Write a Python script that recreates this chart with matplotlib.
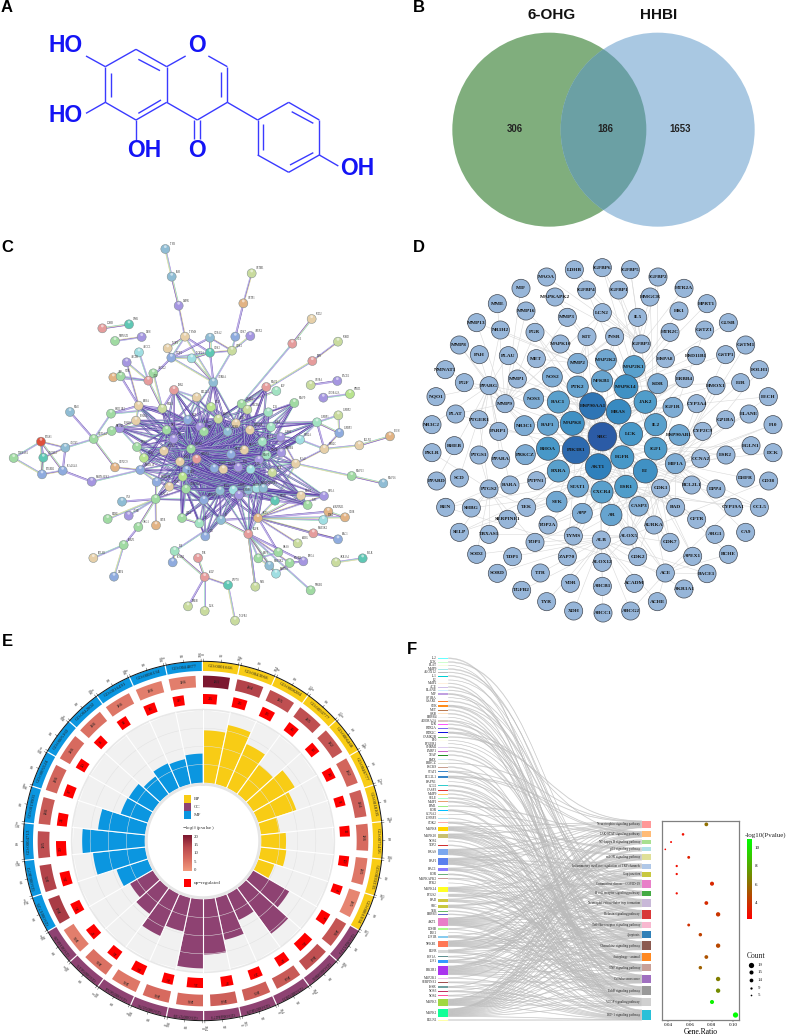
import numpy as np
import matplotlib
matplotlib.use("Agg")
import matplotlib.pyplot as plt
from matplotlib.patches import Circle, PathPatch, Rectangle
from matplotlib.path import Path
from matplotlib.collections import LineCollection
from matplotlib.colors import LinearSegmentedColormap

plt.rcParams['font.family'] = ['Liberation Sans', 'DejaVu Sans']
plt.rcParams['mathtext.fontset'] = 'stix'
SERIF = 'Liberation Serif'
W, H = 786, 1035

# ---- panel A
mol_bonds = [(408,148,500,200),(500,200,500,307),(500,307,408,360),(408,360,316,307),(316,307,316,200),(316,200,408,148),
             (415,178,480,212),(333,220,333,290),(415,340,483,300),(500,200,557,168),(625,168,682,200),(682,200,682,307),
             (663,215,663,290),(682,307,592,360),(592,360,500,307),(583,360,583,418),(600,360,600,418),(682,307,773,360),
             (773,360,866,307),(866,307,958,360),(958,360,958,465),(958,465,866,517),(866,517,773,465),(773,465,773,360),
             (790,372,790,450),(875,335,940,370),(870,495,940,458),(958,465,1015,498),(316,200,258,168),(316,307,258,340),
             (408,360,408,420)]
mol_atoms = ['HO', 'O', 'HO', 'OH', 'O', 'OH']
mol_atom_x = [198, 590, 198, 432, 590, 1073]
mol_atom_y = [135, 135, 345, 452, 452, 505]

# ---- panel B
venn_sets = ['6-OHG', 'HHBI']
venn_counts = [306, 186, 1653]

# ---- panel C
c_labels = """TYR PAH DHFR TYMS GSTM1 GSTP1 CCNA2 CDK7 APEX1 TOP1
TDP1 TOP2A CDK2 CDK1 AURKA ABCC1 ABCB1 ABCG2 ALB APP
VDR ESR2 BCL2L1 BAD CASP3 CXCR4 MMP2 PGF MMP9 ACE
REN SORD SOD2 GP1BA BACE1 ADORA2A HPRT1 IGFBP1 IGFBP2 IGFBP3
HTR2A HTR2C EGLN1 FECH MMP13 MMP16 PLAU KDR ERBB4 IGF1R
JAK2 LCK MME HSD11B1 RARA RXRA PPARA PPARG NR1H2 CYP3A4
PTGS1 ALOX5 ALOX12 TBXAS1 PTGER1 PLA2G4A MAPKAPK2 CYP2C9 MAPK10 NOS3
NOS2 PTGS2 MAPK14 ACACA TEK CA9 ACHE BCHE ARG1 CFTR
PARP1 FOLH1 DPP4 CCL2 IL5 IL2 F2 F10 ELANE F2R
SELP ZAP70 SYK EGFR AKT1 STAT1 SHBG IGF1 MMP1 HIF1A
SERPINE1 PTK2 CD38 MAP2K1 RAC1 HRAS RAF1 MAP2K2 MAPK8 PIK3R1
RHOA NFKB1 AKR1A1 PKLR RHEB DCK TGFB2 LDHB INSR NMNAT1 DBH
HK1 KIT MET PGR MIF MAOA GUSB LCN2 HMGCR NQO1
NR3C1 NR3C2 PPARD PRKCZ SCD TTR MMP3 MMP8 HSPA8 HMOX1
ESR1 AR GSTZ1 CYP19A1 CYP1A1 FGF2 IGFBP5 IGFBP6 MAPK1 MAPK3 CTNNB1""".split()
c_x = [496,515,536,555,755,730,630,706,751,503,
       514,575,630,696,640,417,380,460,445,340,
       362,522,590,633,725,742,799,829,883,877,
       937,1014,935,932,1012,970,1050,951,1015,1018,
       900,973,1078,1170,1055,1150,887,817,844,842,
       813,805,210,333,416,487,408,359,335,281,
       123,196,130,41,126,188,275,345,421,411,
       432,492,470,467,508,366,386,323,415,468,
       371,280,342,546,598,616,663,524,518,594,
       614,684,766,745,774,825,893,923,903,972,
       985,970,1035,940,1014,835,775,808,828,869,
       910,932,1008,1088,564,614,705,307,387,345,425,
       500,521,563,600,612,655,683,708,750,787,
       733,693,643,670,715,752,777,800,573,590,
       540,560,548,558,612,660,700,717,745,770,790]
c_y = [42,125,212,305,115,205,308,305,303,340,
       368,370,353,347,442,352,382,415,437,427,
       424,465,487,516,507,524,456,468,504,326,
       378,320,252,450,438,488,477,562,541,594,
       614,642,631,604,723,745,686,713,653,606,
       576,532,531,536,512,521,557,580,588,612,
       620,638,668,669,718,707,740,697,705,636,
       669,648,741,792,755,800,842,852,876,871,
       930,969,1025,849,865,904,855,948,982,969,
       1026,1050,1055,897,849,797,925,810,782,783,
       830,855,847,895,913,952,970,992,1016,984,
       979,1066,982,970,1114,1128,1157,280,268,318,306,
       585,612,555,575,590,552,590,565,585,620,
       645,658,700,703,697,703,675,660,642,672,
       680,705,725,762,795,767,765,780,765,760,760]
c_codes = """ssptoOsbpt bcToscpgrO grtlgormgr rotopplmob cttOgstopp mmsgtotpgg RsTgbbpObg ltbgtspggO
gtbgmbsmbr rTorOTogtp OcOrbggscg pgoTooorTgp gpbpgosttm tbbtpcpmgr tblgbscpscs""".split()
c_codes = ''.join(c_codes)
c_palette = {'g': '#A0DAA2', 't': '#E6CFA8', 'b': '#8FABDE', 'p': '#A596E0', 'r': '#E59C9C', 'c': '#A0DEE2',
             'o': '#C9DB9E', 'm': '#A2E2C2', 's': '#8FBCD4', 'l': '#B8E38E', 'R': '#DE4F3C', 'O': '#E2B384',
             'T': '#5FC7B4'}
c_edges = """TYR-PAH PAH-DHFR DHFR-TYMS TYMS-CDK2 TYMS-TDP1 TYMS-AURKA TYMS-TOP1 GSTM1-GSTP1 GSTP1-CDK7 CDK7-CDK1 APEX1-CDK1
CCNA2-CDK2 CCNA2-CDK1 CCNA2-TDP1 TDP1-CDK2 TDP1-TOP2A TOP2A-CDK2 CDK2-CDK1 CDK2-AURKA CDK1-AURKA TDP1-AURKA TOP2A-AURKA
TOP1-TDP1 TDP1-ALB ABCC1-ALB ABCB1-ALB ABCG2-ALB APP-VDR APP-ALB VDR-ALB ABCG2-RXRA ALB-RXRA ABCB1-RARA VDR-RARA
ACE-CASP3 REN-CASP3 SOD2-ACE SORD-REN GP1BA-BACE1 ADORA2A-HPRT1 AKR1A1-PKLR LDHB-INSR NMNAT1-DBH ESR2-RXRA ESR2-BCL2L1
MMP2-CASP3 PGF-CASP3 MMP9-LCK MME-CYP3A4 CYP3A4-HSD11B1 CYP3A4-NR1H2 CYP3A4-CYP2C9 CYP2C9-MAPK10 HSD11B1-RARA HSD11B1-RXRA
RARA-PPARA PPARA-PPARG PPARG-NR1H2 RARA-RXRA PPARG-NOS3 NOS3-NOS2 NOS2-PTGS2 PTGS1-ALOX5 PTGS1-ALOX12 PTGS1-TBXAS1 PTGS1-PTGER1
PTGS1-PLA2G4A ALOX5-ALOX12 ALOX5-PLA2G4A ALOX5-CYP3A4 TBXAS1-PTGER1 ALOX12-PTGER1 PLA2G4A-PTGER1 PLA2G4A-MAPKAPK2 MAPKAPK2-MAPK10
MAPK14-MAPK10 MAPK14-ACACA ACACA-TEK ACACA-CA9 ACACA-ACHE ACACA-BCHE ACACA-ARG1 ACACA-CFTR ARG1-PARP1 PARP1-FOLH1 PARP1-DPP4
CCL2-IL5 IL2-IL5 F2-AKT1 F10-F2 ELANE-F10 F2R-SELP SELP-ZAP70 SELP-RHEB SELP-DCK ZAP70-TGFB2 SELP-F10 F10-ELANE SYK-EGFR EGFR-AKT1
AKT1-STAT1 AKT1-MMP1 AKT1-HIF1A AKT1-SERPINE1 AKT1-PTK2 AKT1-CD38 AKT1-MAP2K1 AKT1-RAC1 AKT1-HRAS EGFR-RAF1 EGFR-MAP2K2 EGFR-MAPK8
EGFR-PIK3R1 EGFR-RHOA EGFR-NFKB1 EGFR-SYK EGFR-F2 AKT1-SHBG STAT1-IGF1 IGF1-MMP1 HIF1A-MMP1 SERPINE1-CD38 SERPINE1-PTK2 MAP2K1-RAC1
HRAS-RAF1 RAF1-MAP2K2 MAP2K2-MAPK8 MAPK8-PIK3R1 PIK3R1-RHOA HTR2A-HTR2C HTR2C-EGLN1 EGLN1-FECH HTR2C-PLAU HTR2C-IGFBP1 IGFBP1-IGFBP2
IGFBP2-IGFBP3 IGFBP1-IGFBP3 IGFBP3-HTR2C IGFBP1-JAK2 IGFBP1-HTR2A PLAU-MMP13 MMP13-MMP16 PLAU-IGF1R PLAU-KDR KDR-ERBB4 STAT1-PLAU""".split()
c_mid = """BCL2L1 BAD CASP3 CXCR4 MMP2 MMP9 RARA RXRA PPARA PPARG PTGS2 NOS2 NOS3 MAPK14 TEK MAPK10 KDR ERBB4 IGF1R JAK2 LCK PLAU HTR2A
ACACA CCL2 IL5 IL2 F2 STAT1 AKT1 EGFR IGF1 MMP1 HIF1A AURKA ESR2 IGFBP1""".split()
c_core = ['HK1', 'KIT', 'MET', 'PGR', 'MIF', 'MAOA', 'GUSB', 'LCN2', 'HMGCR', 'NQO1', 'NR3C1', 'NR3C2', 'PPARD', 'PRKCZ',
          'SCD', 'TTR', 'MMP3', 'MMP8', 'HSPA8', 'HMOX1', 'ESR1', 'AR', 'GSTZ1', 'CYP19A1', 'CYP1A1', 'FGF2', 'IGFBP5',
          'IGFBP6', 'MAPK1', 'MAPK3', 'CTNNB1']

# ---- panel D
d_labels = """MAOA LDHB IGFBP6 IGFBP5 IGFBP2 HTR2A MIF IGFBP4 IGFBP1 MAPKAPK2 HMGCR HPRT1 MME MMP16 HK1 LCN2 IL5 MMP13 MMP3 GUSB
NR1H2 HTR2C GSTZ1 PGR KIT INSR IGFBP3 MAPK10 GSTM1 MMP8 PAH PLAU MET HSPA8 HSD11B1 GSTP1 MAP2K2 MMP2 MAP2K1 NMNAT1
FOLH1 NOS2 ERBB4 NFKB1 KDR MMP1 PPARG PGF F2R HMOX1 PTK2 MAPK14 NQO1 FECH NOS3 JAK2 RAC1 HSP90AA1 HRAS MMP9
IGF1R CYP3A4 PLAT ELANE PTGER1 NR3C1 RAF1 MAPK8 IL2 GP1BA NR3C2 F10 PARP1 CYP2C9 LCK SRC HSP90AB1 EGLN1 RHEB RHOA
PIK3R1 IGF1 PTGS1 PPARA PRKCZ PKLR DCK ESR2 CCNA2 EGFR HIF1A AKT1 RXRA F2 SCD PPARD RARA PTPN1 DHFR CD38
BCL2L1 PTGS2 STAT1 ESR1 CXCR4 CDK1 DPP4 REN SHBG SYK TEK CASP3 BAD CYP19A1 CCL5 APP AR SERPINE1 CFTR TOP2A
AURKA SELP TBXAS1 ARG1 CA9 TYMS ALOX5 ALB TOP1 CDK7 SOD2 TDP1 ZAP70 CDK2 APEX1 BCHE ALOX12 SORD TTR ACE
BACE1 VDR ABCB1 ACADM AKR1A1 TGFB2 TYR ACHE XDH ABCC1 ABCG2""".split()
d_x = [440,523,607,691,774,852,363,560,656,465,750,921,292,378,837,607,713,230,502,985,
       301,810,914,405,561,644,724,481,1037,178,238,325,409,796,889,977,618,533,702,136,
       1078,457,853,606,773,352,267,193,1022,948,533,678,108,1105,401,736,475,578,656,315,
       819,890,167,1047,237,373,444,517,767,977,96,1119,296,908,693,607,838,1053,163,444,
       528,767,237,302,376,96,1119,978,902,667,826,595,475,736,178,110,330,410,1037,1106,
       875,267,534,678,606,782,948,137,214,470,380,716,827,1000,1078,547,634,323,890,444,
       762,178,267,945,1037,520,686,604,405,810,230,338,502,713,878,985,607,292,421,796,
       921,511,607,703,852,365,440,772,521,609,692]
d_y = [126,104,98,104,126,160,160,165,165,186,186,206,206,228,228,233,247,263,247,263,
       285,292,285,292,305,305,327,327,330,330,359,362,371,371,362,359,375,385,395,404,
       404,426,431,439,446,432,452,443,443,452,455,455,485,485,491,501,501,513,530,506,
       517,506,537,537,554,572,569,565,569,554,569,569,589,589,597,605,600,632,632,641,
       645,641,660,673,659,653,653,660,671,667,686,695,708,708,729,738,750,737,729,738,
       750,762,755,755,771,760,762,817,819,800,817,814,817,817,817,835,840,853,853,870,
       870,892,898,898,892,903,903,915,922,922,958,965,965,965,964,958,982,1015,1014,1014,
       1016,1045,1054,1045,1062,1066,1100,1100,1128,1134,1128]
d_degree = {'SRC': 42, 'PIK3R1': 38, 'HSP90AA1': 35, 'AKT1': 32, 'HRAS': 28, 'MAPK14': 25, 'MAPK8': 25, 'F2': 25,
            'LCK': 22, 'EGFR': 22, 'RHOA': 22, 'ESR1': 20, 'JAK2': 20, 'IGF1': 20, 'CXCR4': 18, 'RAC1': 18, 'IL2': 18,
            'RXRA': 18, 'MAP2K1': 18, 'NFKB1': 15, 'PTK2': 15, 'RAF1': 15, 'AR': 15, 'STAT1': 13, 'MAP2K2': 13,
            'SYK': 13, 'HSP90AB1': 13, 'MMP2': 10, 'NR3C1': 10, 'PRKCZ': 10, 'HIF1A': 10, 'KDR': 10, 'IGF1R': 10,
            'NOS2': 10, 'NOS3': 10, 'APP': 10, 'CASP3': 8}
d_partners = {
    'SRC': "AKT1 HRAS HSP90AA1 PIK3R1 EGFR LCK MAPK8 RHOA RAF1 RAC1 F2 ESR1 STAT1 CXCR4 IGF1 IL2 JAK2 PTK2 MAPK14 NFKB1 PPARG KDR IGF1R MET ERBB4 HIF1A CASP3 PARP1 MMP2 MMP9 PLAU TEK SYK BCL2L1 CDK1 AR APP ALB",
    'AKT1': "HRAS HSP90AA1 PIK3R1 EGFR MAPK8 RAF1 RAC1 RHOA STAT1 ESR1 IGF1 HIF1A NOS3 NOS2 CASP3 BAD BCL2L1 MMP9 MMP2 CDK2 CDK1 PTPN1 AR INSR TOP2A ALB TYMS ACE SELP",
    'HSP90AA1': "HRAS EGFR PIK3R1 MAPK14 NOS3 NOS2 NFKB1 STAT1 ESR1 AR HIF1A CDK1 RAF1 LCK MMP1 MET PPARG PGR NR3C1 KIT",
    'PIK3R1': "HRAS EGFR LCK RAC1 RAF1 IGF1 IGF1R IL2 INSR KDR KIT MET PTK2 SYK JAK2 PTPN1 ERBB4 ZAP70 F2 PRKCZ RXRA PTGS2",
    'HRAS': "EGFR RAF1 MAP2K1 MAP2K2 MAPK8 MAPK14 RAC1 RHOA JAK2 KDR IGF1R PTK2 IL5 ERBB4 HMOX1 FECH",
    'EGFR': "STAT1 ESR1 CXCR4 F2 IGF1 IL2 LCK PTPN1 ERBB4 AURKA CDK2 BAD SERPINE1 BCL2L1 DPP4 CFTR",
    'F2': "F10 F2R PLAT PLAU SERPINE1 GP1BA SELP CCL5 ELANE ACE REN ALB APP CDK7 APEX1",
    'ESR1': "ESR2 AR PGR CXCR4 CDK1 CDK7 BAD CASP3 ALOX5 TOP2A CYP19A1 SHBG",
    'CXCR4': "CCL5 SYK APP ALB TEK ZAP70 ALOX5 ACE CDK2 TYMS",
    'PPARG': "PPARA PPARD RXRA RARA NR1H2 NR3C1 NR3C2 PGF PLAU PTGS1 PAH MMP8 PTGER1 SCD PARP1 NQO1",
    'PTGS2': "PTGS1 PTGER1 TBXAS1 RARA PTPN1 SHBG SERPINE1 SELP REN PKLR TEK SOD2 TOP1",
    'IGF1': "IGF1R IGFBP3 IGFBP1 IGFBP2 IGFBP4 IGFBP5 IGFBP6 INSR BCL2L1 CCNA2 HSP90AB1 CYP2C9 ESR2 EGLN1 HMGCR",
    'HIF1A': "EGLN1 HMOX1 GSTP1 CYP3A4 CYP2C9 F10 DHFR CCNA2 DPP4 CCL5 BAD CA9 FECH DCK",
    'CDK1': "CDK2 CDK7 CCNA2 AURKA TOP2A TOP1 TYMS CFTR APEX1 ARG1 BCHE",
    'ALB': "TTR ACHE ABCB1 ABCC1 ABCG2 XDH VDR ALOX12 TYR ACADM BACE1 AKR1A1 SORD TDP1",
    'MAPK14': "HSPA8 HSD11B1 HTR2C GSTP1 F2R HMGCR HPRT1 GUSB HK1 MAPK10 MAPKAPK2 MMP3",
    'MMP9': "MMP1 MMP2 MMP3 MMP8 MMP13 MMP16 MME LCN2 MIF PLAT NMNAT1 PGR",
    'IGFBP3': "IGFBP4 IGFBP1 IGFBP6 IGFBP5 IGFBP2 LCN2 LDHB MAOA MAPKAPK2 HTR2A",
    'MMP2': "LCN2 KIT MET MMP16 MMP13 NR1H2 INSR IL5",
    'ALOX5': "ALOX12 CDK7 TOP1 CDK2 TBXAS1 GSTM1 GSTZ1 FOLH1 CD38 SOD2 TGFB2",
    'ACE': "REN ACHE BCHE BACE1 ABCG2 APEX1 CYP19A1",
}

# ---- panel E
e_go_bp = ['GO:0001666', 'GO:0043066', 'GO:0008284', 'GO:0050777', 'GO:0006468', 'GO:0046777', 'GO:0018105', 'GO:0071456', 'GO:0030335', 'GO:0001934']
e_go_cc = ['GO:0045121', 'GO:0009986', 'GO:0005901', 'GO:0005829', 'GO:0048471', 'GO:0005739', 'GO:0005576', 'GO:0005654', 'GO:0005615', 'GO:0016020']
e_go_mf = ['GO:0001725', 'GO:0004672', 'GO:0004713', 'GO:0019901', 'GO:0005524', 'GO:0005102', 'GO:0042802', 'GO:0016491', 'GO:0008134', 'GO:0044877']
e_bars = [72, 83, 66, 50, 66, 55, 26, 34, 35, 23,
          57, 78, 39, 59, 76, 95, 47, 63, 44, 36,
          45, 72, 86, 65, 39, 38, 30, 37, 35, 40]
e_counts = [183, 184, 185, 185, 182, 182, 184, 186, 185, 185,
            186, 184, 184, 185, 184, 186, 186, 186, 186, 186,
            184, 185, 185, 186, 186, 186, 186, 186, 186, 186]
e_pvals = [20, 14, 12, 12, 11, 8, 9, 7, 5, 3,
           11, 12, 10, 9, 9, 7, 7, 5, 6, 4,
           15, 14, 12, 10, 8, 7, 6, 5, 4, 4]
e_up = [26, 26, 23, 16, 13, 14, 8, 11, 10, 4,
        17, 36, 17, 20, 17, 35, 13, 23, 16, 17,
        15, 25, 30, 21, 17, 10, 8, 11, 16, 13]
e_groups = ['BP', 'CC', 'MF']
e_group_cols = ['#F8CC15', '#8E4272', '#0B96E0']
e_cbar_ticks = [20, 15, 10, 5, 0]

# ---- panel F
f_paths = ['Neurotrophin signaling pathway', 'JAK-STAT signaling pathway', 'NF-kappa B signaling pathway', 'p53 signaling pathway',
           'mTOR signaling pathway', 'Inflammatory mediator regulation of TRP channels', 'Gap junction',
           'Coronavirus disease - COVID-19', 'B cell receptor signaling pathway', 'Neutrophil extracellular trap formation',
           'Relaxin signaling pathway', 'Toll-like receptor signaling pathway', 'Apoptosis', 'Chemokine signaling pathway',
           'Autophagy - animal', 'TNF signaling pathway', 'Cellular senescence', 'ErbB signaling pathway',
           'VEGF signaling pathway', 'HIF-1 signaling pathway']
f_path_y = [643, 673, 696, 718, 742, 768, 792, 821, 850, 879, 913, 945, 974, 1007, 1041, 1073, 1107, 1142, 1176, 1215]
f_path_h = [22, 18, 14, 12, 18, 15, 15, 24, 15, 24, 26, 18, 22, 26, 24, 22, 26, 26, 24, 32]
f_path_col = ['#FF9999', '#FFBB77', '#A8E090', '#B0E0E8', '#E0E098', '#B0C8E8', '#C8C840', '#E880C8', '#44AA44', '#C8B8D8',
              '#D83838', '#F8B8D0', '#3080B8', '#8B5A50', '#FF8820', '#C8A098', '#A070C0', '#999999', '#D0D0D0', '#28C0D8']
f_ratio = [0.0752, 0.0538, 0.0428, 0.0375, 0.059, 0.048, 0.048, 0.0804, 0.048, 0.0752,
           0.086, 0.059, 0.0697, 0.086, 0.0752, 0.0697, 0.086, 0.086, 0.0804, 0.102]
f_logp = [6.0, 2.7, 2.5, 2.3, 3.3, 2.7, 2.7, 3.5, 2.7, 3.6, 4.0, 3.8, 4.4, 4.6, 5.0, 5.5, 6.5, 7.0, 10.5, 10.9]
f_count = [14, 10, 8, 7, 11, 9, 9, 15, 9, 14, 16, 11, 13, 16, 14, 13, 16, 16, 15, 19]
f_legend_counts = [19, 15, 14, 9, 5]

f_genes = """IL2 LCK PLAT MMP9 ALOX12 IL1 F2 MMP2 ACE ELANE
MIF GP1BA CSAR1 SYK MET GRB ERBB4 ADORA2A F2R HTR2A
HTR2C CAMK2B F10 PTGER1 CHRM1 PARP1 XIAP BMX PRKCZ PSCK9
STAT1 BCL2L1 BAPN1 CCL5 CASP3 MMP9 SELE MMP1 PIM1 KDR
CCNA2 IGFBP3 CDK2 MAPK8 MAPK10 NOS2 TOP2 HRAS RAF1 RAC1
KDR MAPKAPK2 PTK2 MAPK14 PTGS2 BAD SRC TEK ERBB3 AKT1
LDHB IRE1 IGF1R NFKB1 EGFR HIF1A IGF1 PIK3R1 MAP2K1 SERPINE1
INSR NOS3 NOS2 MAPK3 MAPK1 EGLN1""".split()
f_gene_y = [145,156,166,177,187,198,210,220,231,241,
            252,263,274,288,300,311,322,333,343,355,
            368,381,391,401,412,423,435,449,460,471,
            485,501,515,527,541,552,564,575,588,601,
            613,625,638,656,678,693,706,726,754,778,
            793,806,819,838,856,871,889,903,913,935,
            957,968,980,1001,1024,1040,1054,1081,1104,1117,
            1131,1144,1157,1177,1208,1230]
f_gene_h = [3,3,1,3,2,3,1,2,3,2,
            4,1,3,6,3,3,1,4,3,4,
            5,3,1,1,2,3,3,2,2,3,
            5,7,1,4,4,3,3,4,3,5,
            1,2,5,13,14,2,3,18,20,9,
            4,4,1,14,8,9,9,3,3,24,
            4,1,7,18,10,4,9,27,3,4,
            5,4,4,20,24,3]
f_gene_col = ['#66FFFF','#CFFFCF','#F5FFE0','#A8E8E8','#BBBBBB','#00CED1','#FFF6F0','#FFF0E0','#D0C0E8','#CFEFFF',
              '#C0A0E0','#F0F0F0','#FF7F2A','#FF8C1A','#B87850','#FFE4C4','#F0F0F0','#D8C8C0','#FF55FF','#7B68EE',
              '#1010E0','#66BB66','#FFFFF0','#FFFFE0','#DDCCEE','#CC66CC','#228B22','#D0F0FF','#D8D8C8','#C8A090',
              '#3A86C8','#3A86C8','#F0E0F0','#33CCCC','#E03030','#FFCC66','#AAFFCC','#E8A070','#99EE88','#00BFFF',
              '#F0F0E0','#B0E0F0','#FFAAAA','#FFD700','#C8C070','#C8C8C8','#D03030','#7BA7EE','#5B7FEE','#8B7BFF',
              '#6BAF7B','#C89898','#FFF8FF','#FFFF22','#FAFFF0','#D0C840','#C8C840','#66BB66','#6666CC','#E87FC8',
              '#AAFF88','#F4F4F4','#88CCEE','#FF7755','#D8D8D8','#5F8F8F','#3399FF','#AA33EE','#F0C0F0','#A05050',
              '#70A0A0','#C03060','#FF5599','#A0D840','#10FF99','#FFFFAA']
f_gene_paths = [[19],[8],[16],[10],[9],[15],[10],[19],[18],[9],
                [13,19],[7],[9],[8,15,13],[17],[17],[17],[10,19],[10],[13,16],
                [7,10,1],[0],[9],[10],[13],[12],[12],[17],[0],[16],
                [1,12,15],[1,12,16,0],[9],[13,15],[12,15],[15],[15,7],[15,10],[1],[18,19,10],
                [1],[16],[16,3,14],[0,4,7,9,13,14,15,18],[0,4,7,11,12,14,15,17],[18],[19],[0,1,5,8,10,12,13,14,16,17,18],[0,1,5,6,8,10,12,13,16,17,18,19],[0,9,13,18,17],
                [18,19],[10,18],[17],[0,5,7,10,11,13,15,18],[7,10,15,11],[0,12,14,17],[5,6,13,17,18],[19],[17],[0,1,4,7,8,9,10,11,12,13,14,15,16,17,18,19],
                [19,4],[16],[4,14,19,16],[0,1,2,7,8,9,10,11,12,13,14,15,16],[1,6,7,12,17,19],[19,7],[4,14,16,19,6],[0,1,2,4,5,8,9,10,11,12,13,14,15,16,17,18],[6,19],[19,16],
                [4,19,14],[10,18,19],[19,10],[0,1,4,6,7,8,9,10,12,13,14,15,16,17,18,19],[0,1,2,3,5,6,7,8,9,10,11,12,13,14,15,16,17,18,19],[19]]

panel_letters = ['A', 'B', 'C', 'D', 'E', 'F']
letter_x = [7, 419, 7, 419, 7, 412]
letter_y = [8, 8, 248, 248, 641, 650]

fig = plt.figure(figsize=(W / 100, H / 100), dpi=100)


def px_axes(x0, y0, w, h, **kw):
    return fig.add_axes([x0 / W, 1 - (y0 + h) / H, w / W, h / H], **kw)


def make_panel(x0, y0, w, h):
    # panel axes in 1/3 pixel units, same units as the crops the values were read from
    ax = px_axes(x0, y0, w, h)
    ax.set_xlim(0, w * 3)
    ax.set_ylim(h * 3, 0)
    ax.axis('off')
    return ax


# A
ax_a = make_panel(0, 0, 393, 210)
ax_a.add_collection(LineCollection([[(b[0], b[1]), (b[2], b[3])] for b in mol_bonds], colors='#3A3AFF', linewidths=1.0))
for s, x, y in zip(mol_atoms, mol_atom_x, mol_atom_y):
    ax_a.text(x, y, s, color='#1414F5', fontsize=16.5, fontweight='bold', ha='center', va='center')

# B
ax_b = make_panel(400, 0, 386, 235)
left_c = Circle((448, 389), 291, fc='#80AE7D', ec='none')
right_c = Circle((773, 389), 291, fc='#A9C8E2', ec='none')
ax_b.add_patch(left_c)
ax_b.add_patch(right_c)
both = Circle((448, 389), 291, fc='#6BA0A4', ec='none')
ax_b.add_patch(both)
both.set_clip_path(Circle((773, 389), 291, transform=ax_b.transData))
ax_b.text(454, 46, venn_sets[0], fontsize=11, fontweight='bold', ha='center', va='center', color='#111111')
ax_b.text(777, 46, venn_sets[1], fontsize=11, fontweight='bold', ha='center', va='center', color='#111111')
for v, x in zip(venn_counts, [345, 615, 840]):
    ax_b.text(x, 386, str(v), fontsize=6.9, fontweight='bold', ha='center', va='center', color='#222222')

# C
ax_c = make_panel(0, 235, 400, 400)
c_pos = {n: (x, y) for n, x, y in zip(c_labels, c_x, c_y, strict=True)}
c_pairs = [e.split('-') for e in c_edges]
n_outer = len(c_pairs)
for i, a in enumerate(c_core):
    pa = np.array(c_pos[a])
    for b in c_core[i + 1:]:
        if np.hypot(*(pa - np.array(c_pos[b]))) < 260:
            c_pairs.append([a, b])
for a in c_mid:
    pa = np.array(c_pos[a])
    near = sorted(c_core, key=lambda b: np.hypot(*(pa - np.array(c_pos[b]))))
    for b in near[:6]:
        c_pairs.append([a, b])
edge_cols = ['#9A7AD8', '#7FCCB0', '#D2CE8C', '#6A46B0', '#A6A6E0']
core_cols = ['#5A36A8', '#7FCCB0', '#7A52B8', '#4B3A9E', '#B0A0D8']
segs, seg_cols = [], []
for i, (a, b) in enumerate(c_pairs):
    p, q = np.array(c_pos[a], float), np.array(c_pos[b], float)
    d = q - p
    n = np.array([-d[1], d[0]]) / (np.hypot(*d) + 1e-6)
    cols = edge_cols if i < n_outer else core_cols
    for k, off in enumerate([-2.0, 0, 2.0]):
        segs.append([p + n * off, q + n * off])
        seg_cols.append(cols[(i + k) % 5])
ax_c.add_collection(LineCollection(segs, colors=seg_cols, linewidths=0.42))
c_node_cols = [c_palette[k] for k in c_codes]
ax_c.scatter(c_x, c_y, s=42, c=c_node_cols, edgecolors='#7E8C8C', linewidths=0.35, zorder=3)
ax_c.scatter(c_x, np.array(c_y) + 2, s=12, c=c_node_cols, edgecolors='none', alpha=0.6, zorder=4)
ax_c.scatter(c_x, np.array(c_y) - 7, s=4, c='white', edgecolors='none', alpha=0.55, zorder=4)
for n, x, y in zip(c_labels, c_x, c_y):
    ax_c.text(x + 13, y - 12, n, fontsize=1.9, family=SERIF, color='#333333', zorder=5)

# D
ax_d = make_panel(400, 235, 386, 395)
d_pos = {n: (x, y) for n, x, y in zip(d_labels, d_x, d_y, strict=True)}
d_segs = []
for hub, others in d_partners.items():
    for o in others.split():
        if o in d_pos:
            d_segs.append([d_pos[hub], d_pos[o]])
ax_d.add_collection(LineCollection(d_segs, colors='#D9D9D9', linewidths=0.4))
d_cmap = LinearSegmentedColormap.from_list('d', ['#A2BADC', '#7CABD3', '#4B9BC9', '#2F82BD', '#2B5BA6'])
for n, x, y in zip(d_labels, d_x, d_y):
    deg = d_degree.get(n, 3)
    ax_d.add_patch(Circle((x, y), 26 + deg * 0.4, fc=d_cmap(deg / 42), ec='#454B55', lw=0.5, zorder=3))
    ax_d.text(x, y, n, fontsize=3.9, fontweight='bold', family=SERIF, ha='center', va='center', color='#151515', zorder=4)

# E, radii in the same 1/3 pixel units
ax_e = px_axes(203 - 200, 841 - 200, 400, 400, projection='polar')
ax_e.set_theta_zero_location('N')
ax_e.set_theta_direction(-1)
ax_e.set_ylim(0, 600)
ax_e.axis('off')
e_cmap = LinearSegmentedColormap.from_list('e', ['#F29A7E', '#D86C60', '#B9484D', '#7C1830'])
go_terms = e_go_bp + e_go_cc + e_go_mf


def sector(start_deg, width_deg, r0, r1, col, **kw):
    t = np.deg2rad(np.linspace(start_deg, start_deg + width_deg, 24))
    ax_e.fill(np.r_[t, t[::-1]], np.r_[np.full(24, r0), np.full(24, r1)], color=col, lw=0, **kw)


circ = np.linspace(0, 2 * np.pi, 361)
sector(0, 360, 175, 393, '#F1F1F1')
for frac in [0.25, 0.5, 0.75]:
    ax_e.plot(circ, np.full(361, 175 + 218 * frac), color='#E1E1E1', lw=0.35)
ax_e.plot(circ, np.full(361, 394), color='#E8E8E8', lw=1.2)
ax_e.plot(circ, np.full(361, 170), color='#E6E6E6', lw=2.0)
for i in range(30):
    th = np.deg2rad(i * 12)
    ax_e.plot([th, th], [175, 393], color='white', lw=0.8)
for i in range(30):
    start = i * 12
    mid_deg = start + 5.8
    col = e_group_cols[i // 10]
    sector(start, 11.7, 175, 175 + e_bars[i] * 2.18, col)
    sector(start, 11.6, 510, 538, col)
    ax_e.text(np.deg2rad(mid_deg), 524, go_terms[i], fontsize=3.5, family=SERIF, color='#222222', rotation=-mid_deg,
              rotation_mode='anchor', ha='center', va='center')
    sector(start, 9.4, 461, 496, e_cmap(e_pvals[i] / 20))
    cd = start + 4.7
    ax_e.text(np.deg2rad(cd), 478, str(e_counts[i]), fontsize=3.4, family=SERIF, color='#222222', rotation=-cd,
              rotation_mode='anchor', ha='center', va='center')
    wd = 3.2 + 2.4 * e_up[i] / 26
    sector(start, wd, 411, 441, '#FE0000')
    ud = start + wd / 2
    ax_e.text(np.deg2rad(ud), 426, str(e_up[i]), fontsize=3.4, family=SERIF, color='#3A1010', rotation=-ud,
              rotation_mode='anchor', ha='center', va='center')
    # axis ticks of the outer track
    for frac, lab in zip([0, 0.5, 1], [0, e_counts[i] // 2, e_counts[i]]):
        ang = np.deg2rad(start + 0.2 + 11.2 * frac)
        ax_e.plot([ang, ang], [538, 546], color='#222222', lw=0.3)
        ax_e.text(ang, 562, str(lab), fontsize=2.9, family=SERIF, color='#333333', rotation=90 - np.rad2deg(ang),
                  rotation_mode='anchor', ha='center', va='center')
    ax_e.plot(np.deg2rad(np.linspace(start, start + 11.6, 20)), np.full(20, 539), color='#111111', lw=0.7)
ax_e.set_ylim(0, 600)

# F links
ax_f = make_panel(400, 610, 260, 425)
links = []
for gi, ps in enumerate(f_gene_paths):
    for pi in ps:
        links.append((gi, pi))
path_tot = [sum(1 for g, p in links if p == i) for i in range(len(f_paths))]
path_used = [0] * len(f_paths)
gene_used = [0] * len(f_genes)
for gi, pi in sorted(links, key=lambda t: (t[0], t[1])):
    gw = f_gene_h[gi] / len(f_gene_paths[gi])
    pw = f_path_h[pi] / max(path_tot[pi], 1)
    y0 = f_gene_y[gi] - f_gene_h[gi] / 2 + gene_used[gi] * gw
    y1 = f_path_y[pi] - f_path_h[pi] / 2 + path_used[pi] * pw
    gene_used[gi] += 1
    path_used[pi] += 1
    xa, xb = 145, 725
    xm = (xa + xb) / 2
    verts = [(xa, y0), (xm, y0), (xm, y1), (xb, y1), (xb, y1 + pw), (xm, y1 + pw), (xm, y0 + gw), (xa, y0 + gw), (xa, y0)]
    codes = [Path.MOVETO, Path.CURVE4, Path.CURVE4, Path.CURVE4, Path.LINETO, Path.CURVE4, Path.CURVE4, Path.CURVE4, Path.CLOSEPOLY]
    ax_f.add_patch(PathPatch(Path(verts, codes), fc='#BBBBBB', ec='#BBBBBB', lw=0.25, alpha=0.62))
for n, y, h, col in zip(f_genes, f_gene_y, f_gene_h, f_gene_col, strict=True):
    ax_f.add_patch(Rectangle((115, y - h / 2), 30, h, fc=col, ec='none', zorder=3))
    ax_f.text(111, y, n, fontsize=2.4, family=SERIF, ha='right', va='center', color='#222222', zorder=4)
for n, y, h, col in zip(f_paths, f_path_y, f_path_h, f_path_col, strict=True):
    ax_f.add_patch(Rectangle((725, y - h / 2), 29, h, fc=col, ec='none', zorder=3))
    ax_f.text(720, y, n, fontsize=2.3, family=SERIF, ha='right', va='center', color='#222222', zorder=4)

# F dot plot
red_green = LinearSegmentedColormap.from_list('rg', ['#FF0000', '#00FF00'])
ax_dot = px_axes(661.7, 820.7, 77.3, 199.3)
size_of = lambda c: (1.2 + (np.asarray(c, float) - 7) * 0.217) ** 2
ax_dot.scatter(f_ratio, f_path_y, s=size_of(f_count), c=f_logp, cmap=red_green, vmin=2.15, vmax=10.96, linewidths=0)
ax_dot.set_xlim(0.0342, 0.1052)
ax_dot.set_ylim(1230, 632)
ax_dot.set_yticks([])
ax_dot.set_xticks([0.04, 0.06, 0.08, 0.10], ['0.04', '0.06', '0.08', '0.10'], fontsize=3.6, family=SERIF)
ax_dot.tick_params(axis='x', length=1.2, width=0.3, pad=1)
ax_dot.set_xlabel('Gene.Ratio', fontsize=5.5, family=SERIF, labelpad=1)
for sp in ax_dot.spines.values():
    sp.set_color('#808080')
    sp.set_linewidth(0.9)

ax_cb = px_axes(747, 839.3, 4.4, 79.4)
ax_cb.imshow(np.linspace(10.96, 2.15, 128)[:, None], cmap=red_green, aspect='auto', extent=[0, 1, 2.15, 10.96])
ax_cb.set_xticks([])
ax_cb.yaxis.tick_right()
ax_cb.set_yticks([4, 6, 8, 10], ['4', '6', '8', '10'], fontsize=3.6, family=SERIF)
ax_cb.tick_params(axis='y', length=0, pad=2.5)
for sp in ax_cb.spines.values():
    sp.set_visible(False)

# E legend colour bar
ax_ecb = px_axes(183.3, 835, 9, 36)
ax_ecb.imshow(np.linspace(20, 0, 64)[:, None], cmap=e_cmap, aspect='auto', extent=[0, 1, -1, 21], vmin=0, vmax=20)
ax_ecb.set_xticks([])
ax_ecb.yaxis.tick_right()
ax_ecb.set_yticks(e_cbar_ticks, [str(v) for v in e_cbar_ticks], fontsize=3.5, family=SERIF, color='#333333')
ax_ecb.tick_params(axis='y', length=0, pad=1)
for sp in ax_ecb.spines.values():
    sp.set_visible(False)

# overlay in plain pixels for legends and panel letters
ax_top = fig.add_axes([0, 0, 1, 1], facecolor='none')
ax_top.set_xlim(0, W)
ax_top.set_ylim(H, 0)
ax_top.axis('off')
for n, col, y in zip(e_groups, e_group_cols, [798.5, 806.5, 814.5]):
    ax_top.add_patch(Rectangle((184, y - 4), 7.3, 8, fc=col, ec='none'))
    ax_top.text(193.5, y, n, fontsize=3.6, family=SERIF, va='center', color='#333333')
ax_top.text(198, 828.5, r'$-\log_{10}$(pvalue)', fontsize=3.6, family=SERIF, ha='center', va='center', color='#333333')
ax_top.add_patch(Rectangle((184, 878.7), 7.3, 8, fc='#FE0000', ec='none'))
ax_top.text(193.5, 883, 'up\u2212regulated', fontsize=3.6, family=SERIF, va='center', color='#333333')

ax_top.text(765, 835, '-log10(Pvalue)', fontsize=5, family=SERIF, ha='center', va='center', color='#222222')
ax_top.text(756, 956, 'Count', fontsize=5.5, family=SERIF, ha='center', va='center', color='#222222')
for c, y in zip(f_legend_counts, [964.7, 972.3, 980, 987.7, 995]):
    ax_top.scatter([750.7], [y], s=size_of(max(c, 7)), c='black', linewidths=0)
    ax_top.text(757.7, y, str(c), fontsize=3.5, family=SERIF, va='center', color='#222222')

for s, x, y in zip(panel_letters, letter_x, letter_y):
    ax_top.text(x, y, s, fontsize=12, fontweight='bold', ha='center', va='center', color='black')

fig.savefig('out.png', dpi=100)
